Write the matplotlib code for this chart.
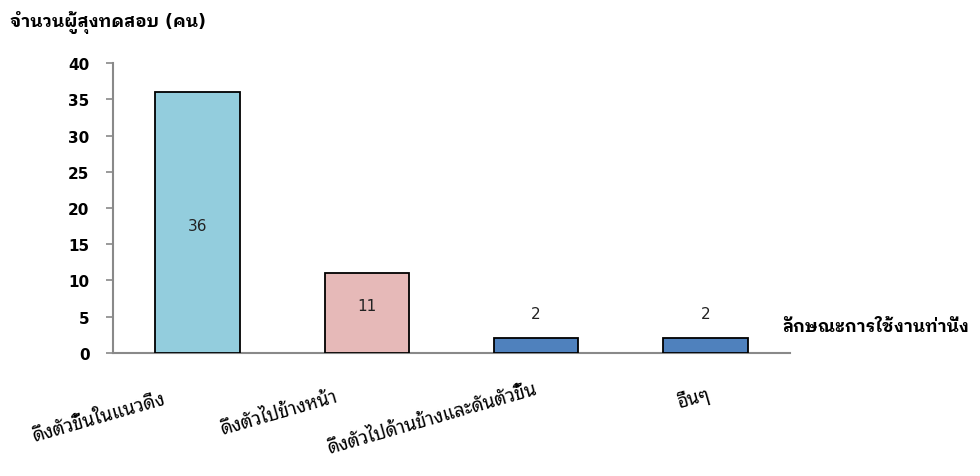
import matplotlib
matplotlib.use("Agg")
import matplotlib.pyplot as plt

# ── data ──────────────────────────────────────────────────────────────
categories = [
    "ดึงตัวขึ้นในแนวดิ่ง",
    "ดึงตัวไปข้างหน้า",
    "ดึงตัวไปด้านข้างและดันตัวขึ้น",
    "อื่นๆ",
]
counts = [36, 11, 2, 2]
y_ticks = [0, 5, 10, 15, 20, 25, 30, 35, 40]
y_title = "จำนวนผู้สุงทดสอบ (คน)"
x_title = "ลักษณะการใช้งานท่านั่ง"

# ── style ─────────────────────────────────────────────────────────────
THAI = ["DejaVu Sans", "Noto Sans Thai Looped"]
THAI_BOLD = ["DejaVu Sans", "IBM Plex Sans Thai Looped", "Noto Sans Thai Looped"]
BAR_COLORS = ["#93CDDD", "#E6B9B8", "#4F81BD", "#4F81BD"]
AXIS_GREY = "#898989"

# value-label placement: fraction of bar height, or None = just above the bar
label_y = [0.49, 0.59, None, None]
# pixel offsets (dx, dy) of the rotated category labels' right end from tick/axis
cat_offsets = [(-31, -50), (-28, -48), (2, -40), (6, -45)]

fig = plt.figure(figsize=(9.8, 4.77), dpi=100)
ax = fig.add_axes([0.1153, 0.2579, 0.6908, 0.6079])

x = list(range(len(categories)))
ax.bar(x, counts, width=0.5, color=BAR_COLORS, edgecolor="black",
       linewidth=1.3, zorder=3)

for i, v in enumerate(counts):
    if label_y[i] is not None:
        ax.text(i, v * label_y[i], str(v), ha="center", va="center",
                fontsize=11, family="DejaVu Sans", color="#222222", zorder=4)
    else:
        ax.annotate(str(v), xy=(i, v), xytext=(0, 18), textcoords="offset points",
                    ha="center", va="center", fontsize=11,
                    family="DejaVu Sans", color="#222222")

ax.set_xlim(-0.5, 3.5)
ax.set_ylim(0, 40)
ax.set_yticks(y_ticks)
ax.set_yticklabels([str(t) for t in y_ticks], fontsize=11, fontweight="bold",
                   family="DejaVu Sans")
ax.set_xticks([])

for side in ("top", "right"):
    ax.spines[side].set_visible(False)
for side in ("left", "bottom"):
    ax.spines[side].set_color(AXIS_GREY)
    ax.spines[side].set_linewidth(1.5)
ax.tick_params(axis="y", direction="out", length=5, width=1.2,
               color=AXIS_GREY, pad=12)

# rotated category labels
for i, (lab, (dx, dy)) in enumerate(zip(categories, cat_offsets)):
    ax.annotate(lab, xy=(i, 0), xytext=(dx * 0.72, dy * 0.72),
                textcoords="offset points", rotation=16,
                rotation_mode="anchor", ha="right", va="baseline",
                fontsize=13.5, family=THAI)

fig.text(10 / 980, 1 - 23 / 477, y_title, ha="left", va="center",
         fontsize=12.5, fontweight="bold", family=THAI_BOLD)
fig.text(782 / 980, 1 - 332 / 477, x_title, ha="left", va="baseline",
         fontsize=12.3, fontweight="bold", family=THAI_BOLD)

fig.savefig("out.png")
